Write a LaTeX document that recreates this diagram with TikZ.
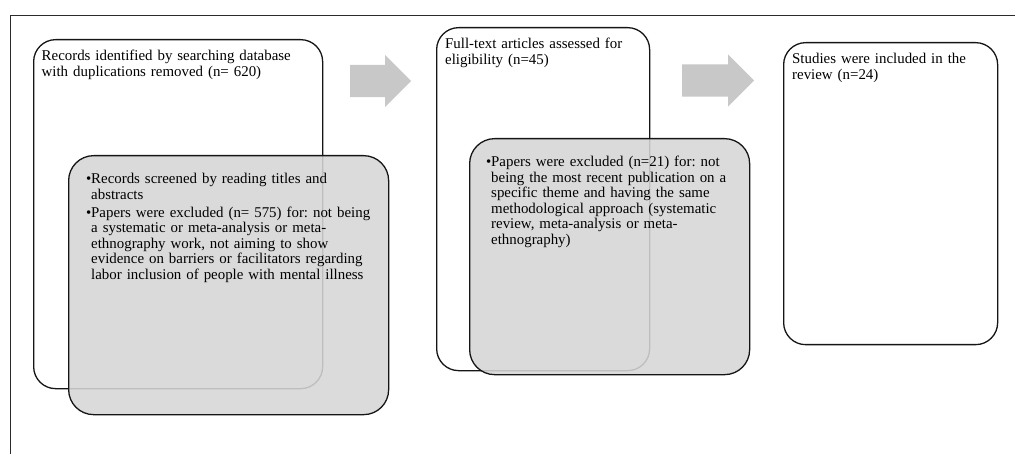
\documentclass[tikz,border=0pt]{standalone}
\usepackage{fontspec}
\setmainfont{Liberation Serif}
\usetikzlibrary{positioning, calc, shapes.arrows}
\definecolor{flow-line}{HTML}{151515}
\definecolor{flow-shade}{HTML}{D6D6D6}
\definecolor{flow-arrow}{HTML}{C8C8C8}
\definecolor{flow-frame}{HTML}{2B2B2B}
\frenchspacing
\newcommand{\flowitem}{\hangindent=5pt\hangafter=1\makebox[5pt][l]{\textbullet}}
\tikzset{
    stagebox/.style={draw=flow-line, line width=1.3pt, rounded corners=22pt,
        anchor=north west, inner sep=0pt, fill=white},
    dropbox/.style={stagebox, rounded corners=25pt, fill=flow-shade, fill opacity=0.88},
    boxtext/.style={anchor=base west, inner sep=0pt, align=left, text width=#1,
        font=\fontsize{14.9}{15.5}\selectfont\setlength{\parskip}{2.5pt}},
    stagearrow/.style={single arrow, draw=none, fill=flow-arrow, anchor=tail,
        inner xsep=0pt, inner ysep=16pt,
        single arrow head extend=10pt, single arrow tip angle=90}
}
\begin{document}
\begin{tikzpicture}[x=1pt, y=-1pt]
    \useasboundingbox (0,0) rectangle (1015,454);
    \draw[flow-frame, line width=0.9pt] (1015,15) -- (10,15) -- (10,454);

    % first stage
    \node[stagebox, minimum width=289pt, minimum height=349pt] (found) at (33,39) {};
    \node[dropbox, minimum width=320pt, minimum height=259pt] (screen) at (68,155) {};
    \node[boxtext=280pt] (foundtext) at ($(found.north west)+(8.5,22)$)
        {Records identified by searching database\\with duplications removed (n= 620)};
    \node[boxtext=295pt] (screentext) at ($(screen.north west)+(18,29)$)
        {\flowitem Records screened by reading titles and\newline abstracts\par
         \flowitem Papers were excluded (n= 575) for: not being\newline a systematic or meta-analysis or meta-\newline ethnography work, not aiming to show\newline evidence on barriers or facilitators regarding\newline labor inclusion of people with mental illness\par};

    \node[stagearrow, minimum height=61pt] (arrone) at (350,81) {};

    % second stage
    \node[stagebox, minimum width=213pt, minimum height=343pt] (assess) at (436,27) {};
    \node[dropbox, minimum width=280pt, minimum height=236pt] (drop) at (469,138) {};
    \node[boxtext=200pt] (assesstext) at ($(assess.north west)+(9,22)$)
        {Full-text articles assessed for\\eligibility (n=45)};
    \node[boxtext=260pt] (droptext) at ($(drop.north west)+(17,29)$)
        {\flowitem Papers were excluded (n=21) for: not\newline being the most recent publication on a\newline specific theme and having the same\newline methodological approach (systematic\newline review, meta-analysis or meta-\newline ethnography)\par};

    \node[stagearrow, minimum height=72pt] (arrtwo) at (682,80.5) {};

    % third stage
    \node[stagebox, minimum width=214pt, minimum height=302pt] (keep) at (783,42) {};
    \node[boxtext=200pt] (keeptext) at ($(keep.north west)+(9,22)$)
        {Studies were included in the\\review (n=24)};
\end{tikzpicture}
\end{document}
